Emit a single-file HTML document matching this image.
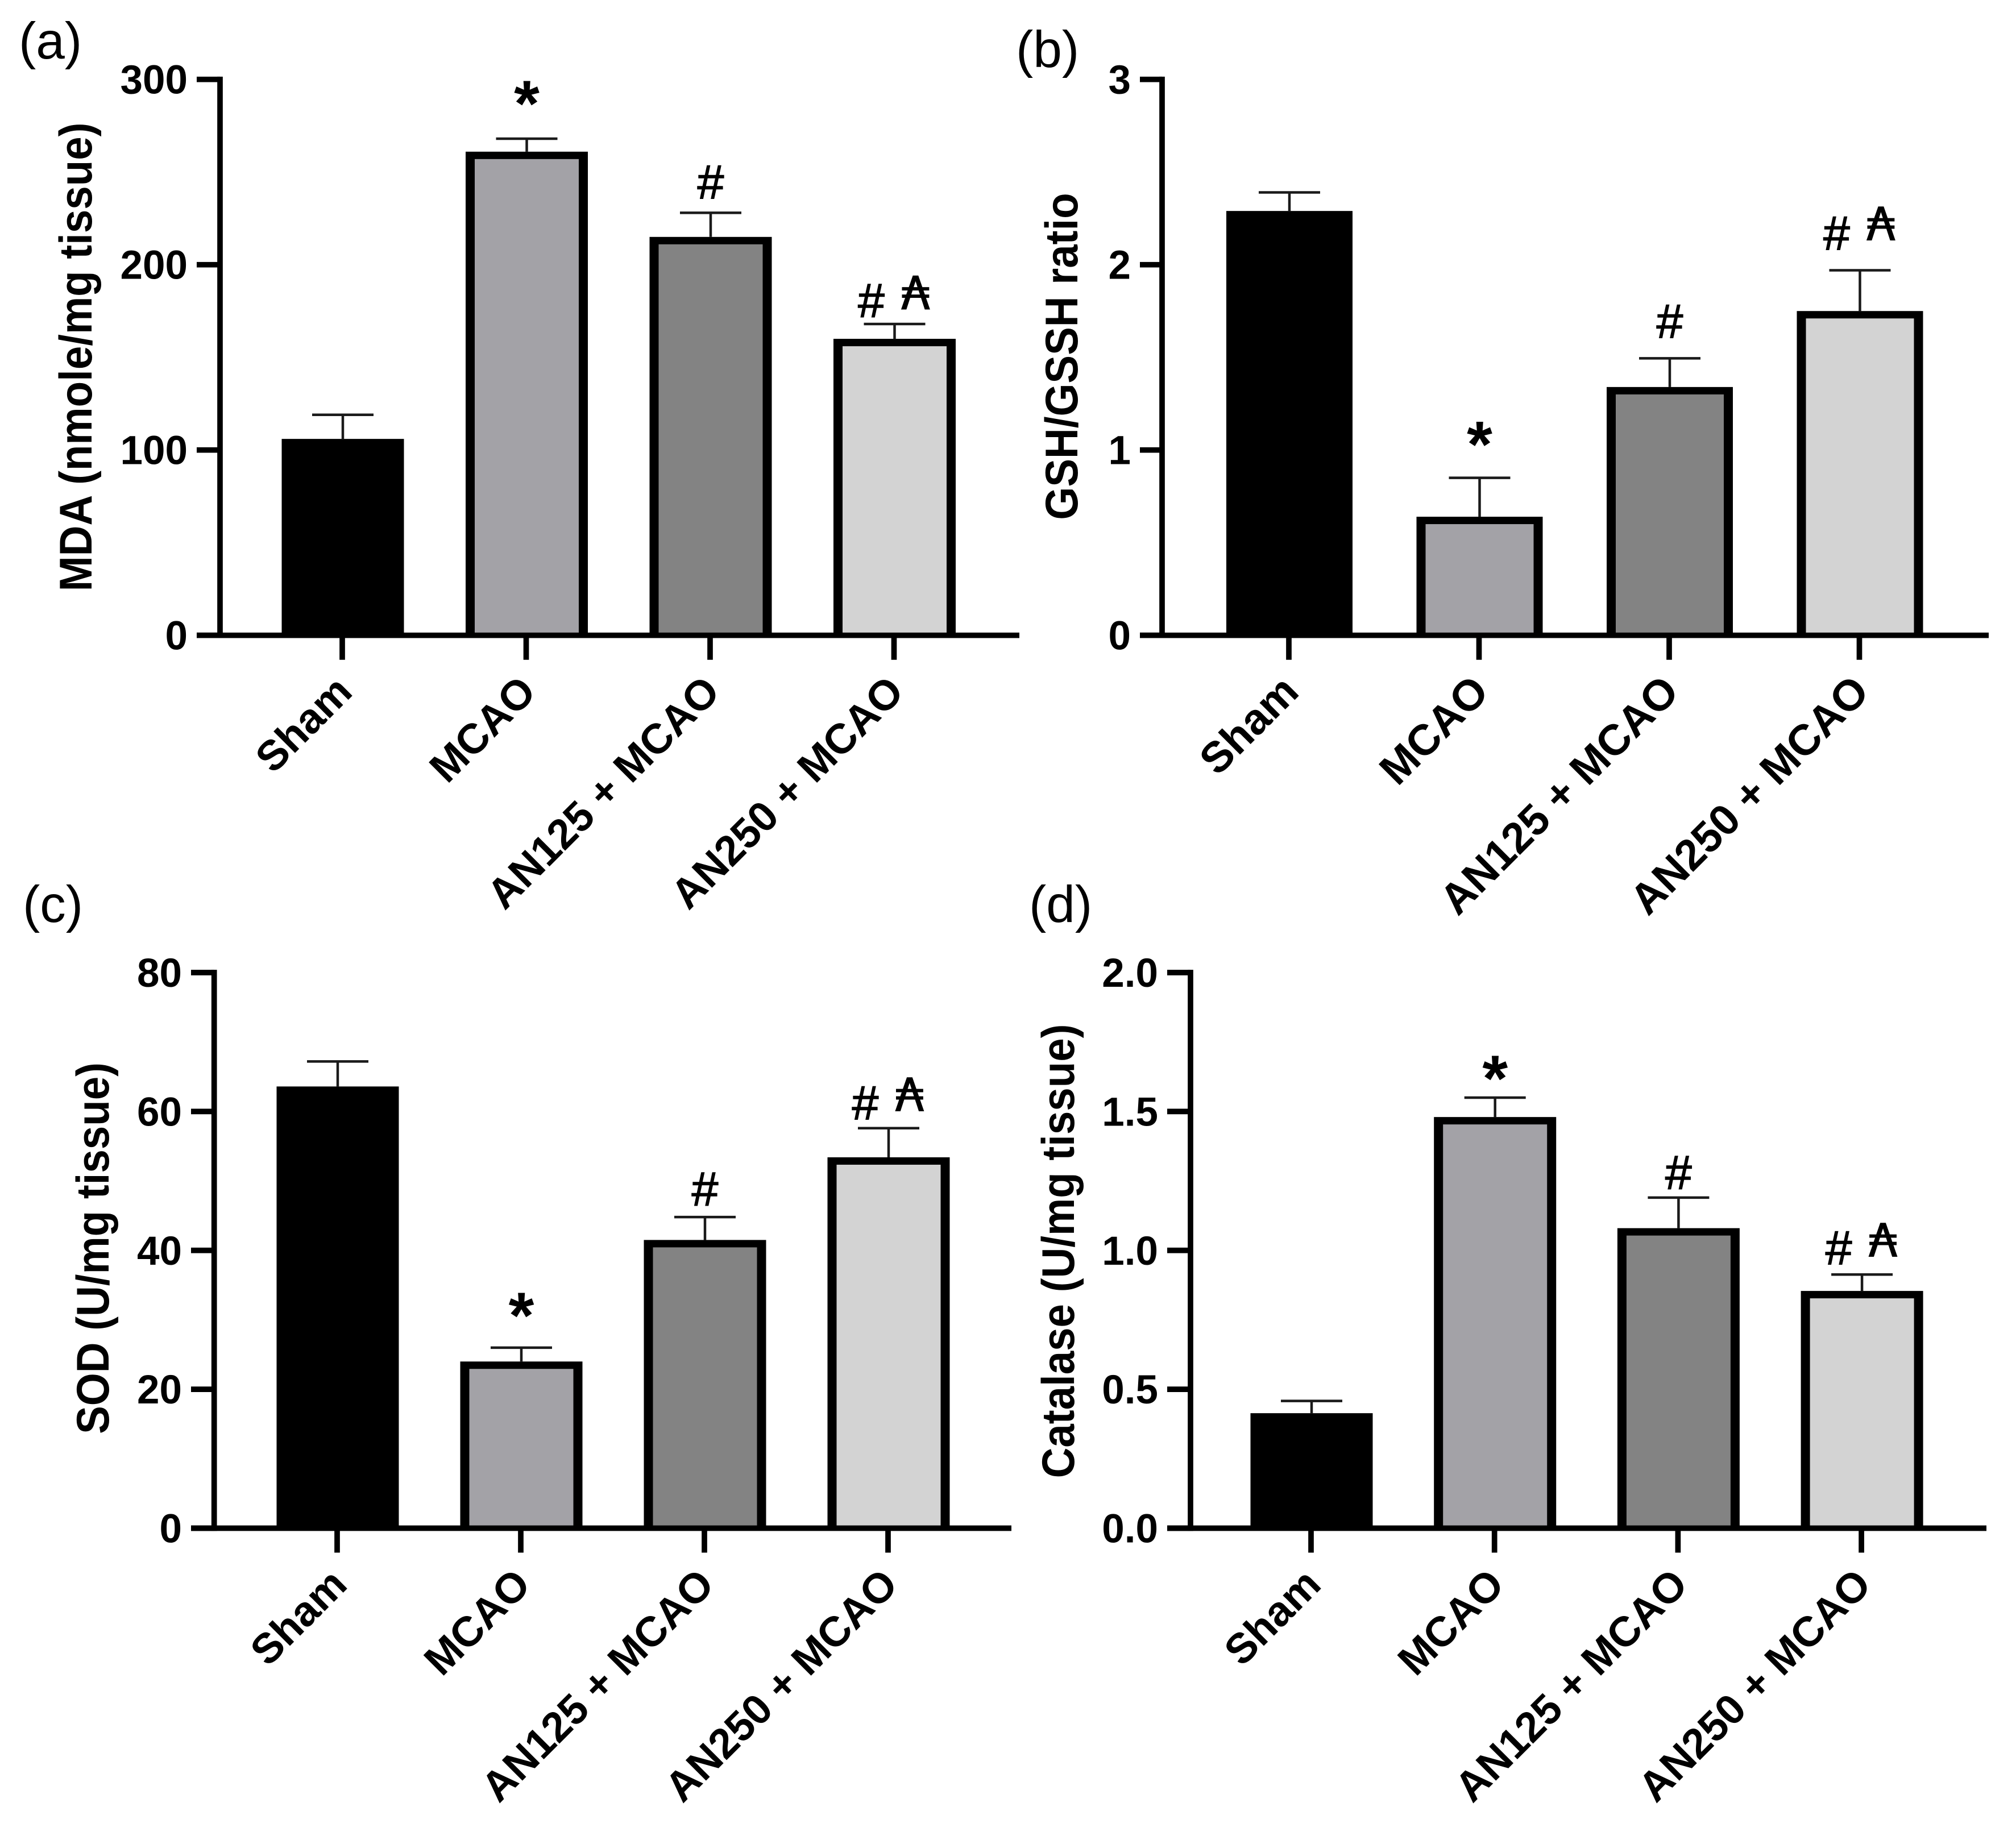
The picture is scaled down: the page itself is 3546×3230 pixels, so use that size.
<!DOCTYPE html>
<html lang="en">
<head>
<meta charset="utf-8">
<title>Oxidative stress markers</title>
<style>
html,body{margin:0;padding:0;background:#fff;width:3546px;height:3230px;overflow:hidden}
svg{display:block}
text{font-family:"Liberation Sans",Arial,sans-serif;fill:#000}
</style>
</head>
<body>
<svg id="figure" xmlns="http://www.w3.org/2000/svg" width="3546" height="3230" viewBox="0 0 3546 3230"></svg>
<script>
const categories = ['Sham', 'MCAO', 'AN125 + MCAO', 'AN250 + MCAO'];
const barColors = ['#000000', '#a3a2a7', '#838383', '#d3d3d3'];

const mdaMeans = [106, 261, 215, 160];
const mdaErrors = [13, 7, 13, 8];
const mdaMarks = ['', '*', '#', '#A'];
const mdaTicks = [0, 100, 200, 300];
const mdaTickLabels = ['0', '100', '200', '300'];

const gshMeans = [2.29, 0.64, 1.34, 1.75];
const gshErrors = [0.10, 0.21, 0.155, 0.22];
const gshMarks = ['', '*', '#', '#A'];
const gshTicks = [0, 1, 2, 3];
const gshTickLabels = ['0', '1', '2', '3'];

const sodMeans = [63.6, 24, 41.5, 53.4];
const sodErrors = [3.6, 2, 3.3, 4.2];
const sodMarks = ['', '*', '#', '#A'];
const sodTicks = [0, 20, 40, 60, 80];
const sodTickLabels = ['0', '20', '40', '60', '80'];

const catMeans = [0.414, 1.48, 1.08, 0.854];
const catErrors = [0.044, 0.07, 0.11, 0.059];
const catMarks = ['', '*', '#', '#A'];
const catTicks = [0, 0.5, 1, 1.5, 2];
const catTickLabels = ['0.0', '0.5', '1.0', '1.5', '2.0'];

const panels = [
  {id:'a', letter:'(a)', lx:33, ly:103, title:'MDA (nmole/mg tissue)', titleX:161, titleY:628, labelSize:74,
   means:mdaMeans, errors:mdaErrors, marks:mdaMarks, ticks:mdaTicks, labels:mdaTickLabels, yMax:300,
   axisX:387, tickLeft:346, right:1793, top:139.7, base:1117.7, x0:603, step:323.5, barW:215,
   star:80, hash:55, comboHash:42, comboA:55},
  {id:'b', letter:'(b)', lx:1787, ly:118, title:'GSH/GSSH ratio', titleX:1895, titleY:627, labelSize:76,
   means:gshMeans, errors:gshErrors, marks:gshMarks, ticks:gshTicks, labels:gshTickLabels, yMax:3,
   axisX:2044, tickLeft:2005, right:3498, top:139.7, base:1117.7, x0:2268, step:334.5, barW:222,
   star:77, hash:66, comboHash:66, comboA:82},
  {id:'c', letter:'(c)', lx:40, ly:1622, title:'SOD (U/mg tissue)', titleX:191, titleY:2196, labelSize:74,
   means:sodMeans, errors:sodErrors, marks:sodMarks, ticks:sodTicks, labels:sodTickLabels, yMax:80,
   axisX:376.7, tickLeft:336, right:1779, top:1711, base:2688.5, x0:594, step:323, barW:215,
   star:75, hash:50, comboHash:45, comboA:59},
  {id:'d', letter:'(d)', lx:1810, ly:1622, title:'Catalase (U/mg tissue)', titleX:1889, titleY:2201, labelSize:74,
   means:catMeans, errors:catErrors, marks:catMarks, ticks:catTicks, labels:catTickLabels, yMax:2,
   axisX:2094, tickLeft:2053, right:3494, top:1711, base:2688.5, x0:2307, step:322.7, barW:215,
   star:52, hash:45, comboHash:48, comboA:61}
];

const NS = 'http://www.w3.org/2000/svg';
const root = document.getElementById('figure');

function make(parent, tag, attrs, content) {
  const el = document.createElementNS(NS, tag);
  for (const k in attrs) el.setAttribute(k, attrs[k]);
  if (content !== undefined) el.textContent = content;
  parent.appendChild(el);
  return el;
}

panels.forEach(function (p) {
  const yScale = function (v) { return p.base - (v / p.yMax) * (p.base - p.top); };
  const xScale = function (i) { return p.x0 + i * p.step; };

  const g = make(root, 'g', {});
  
  

  const letter = make(g, 'text', {x: p.lx, y: p.ly, 'font-size': 91}, p.letter);
  
  

  const title = make(g, 'text', {
    'font-size': 74.5, 'font-weight': 'bold', 'text-anchor': 'middle',
    transform: 'translate(' + p.titleX + ' ' + p.titleY + ') scale(1.08 1) rotate(-90)'
  }, p.title);
  
  

  p.means.forEach(function (m, i) {
    const cx = xScale(i);
    const errTop = yScale(m + p.errors[i]);
    const barTop = yScale(m);

    const stem = make(g, 'line', {x1: cx, x2: cx, y1: barTop, y2: errTop, stroke: '#1a1a1a', 'stroke-width': 4.5});
    
    

    const cap = make(g, 'line', {x1: cx - 54, x2: cx + 54, y1: errTop, y2: errTop, stroke: '#1a1a1a', 'stroke-width': 4.5});
    
    

    const bar = make(g, 'rect', {
      x: cx - p.barW / 2, y: barTop, width: p.barW, height: Math.max(0, p.base - barTop), fill: '#000'
    });
    
    

    if (i > 0) {
      const fill = make(g, 'rect', {
        x: cx - p.barW / 2 + 16, y: barTop + 13, width: p.barW - 32, height: Math.max(0, p.base - barTop - 13), fill: barColors[i]
      });
      
      
    }

    const mark = p.marks[i];
    if (mark === '*') {
      const star = make(g, 'text', {x: cx, y: errTop - p.star + 58, 'font-size': 115, 'font-weight': 'bold', 'text-anchor': 'middle'}, '*');
      
      
    } else if (mark === '#') {
      const hash = make(g, 'text', {x: cx, y: errTop - p.hash + 30, 'font-size': 84, 'text-anchor': 'middle', stroke: '#000', 'stroke-width': 1.5}, '#');
      
      
    } else if (mark === '#A') {
      const hash2 = make(g, 'text', {x: cx - 41, y: errTop - p.comboHash + 30, 'font-size': 84, 'text-anchor': 'middle', stroke: '#000', 'stroke-width': 1.5}, '#');
      
      
      const austral = make(g, 'text', {x: cx + 37, y: errTop - p.comboA + 29, 'font-size': 80, 'text-anchor': 'middle', stroke: '#000', 'stroke-width': 1, style: 'font-family:"DejaVu Sans",sans-serif'}, '\u20B3');
      
      
    }

    const xTick = make(g, 'line', {x1: cx - 1, x2: cx - 1, y1: p.base, y2: p.base + 43, stroke: '#000', 'stroke-width': 9.7});
    
    

    const ax = cx + 20;
    const ay = p.base + 103;
    const xLabel = make(g, 'text', {
      x: ax, y: ay, 'font-size': p.labelSize, 'font-weight': 'bold', 'text-anchor': 'end',
      transform: 'rotate(-45 ' + ax + ' ' + ay + ')'
    }, categories[i]);
    
    
  });

  const yAxis = make(g, 'line', {x1: p.axisX, x2: p.axisX, y1: p.top - 4.85, y2: p.base + 4.85, stroke: '#000', 'stroke-width': 9.7});
  
  

  const xAxis = make(g, 'line', {x1: p.tickLeft, x2: p.right, y1: p.base, y2: p.base, stroke: '#000', 'stroke-width': 9.7});
  
  

  p.ticks.forEach(function (t, i) {
    const y = yScale(t);
    const tick = make(g, 'line', {x1: p.tickLeft, x2: p.axisX, y1: y, y2: y, stroke: '#000', 'stroke-width': 9.7});
    
    

    const label = make(g, 'text', {
      x: p.tickLeft - 16, y: y + 25, 'font-size': 71, 'font-weight': 'bold', 'text-anchor': 'end'
    }, p.labels[i]);
    
    
  });
});
</script>
</body>
</html>
